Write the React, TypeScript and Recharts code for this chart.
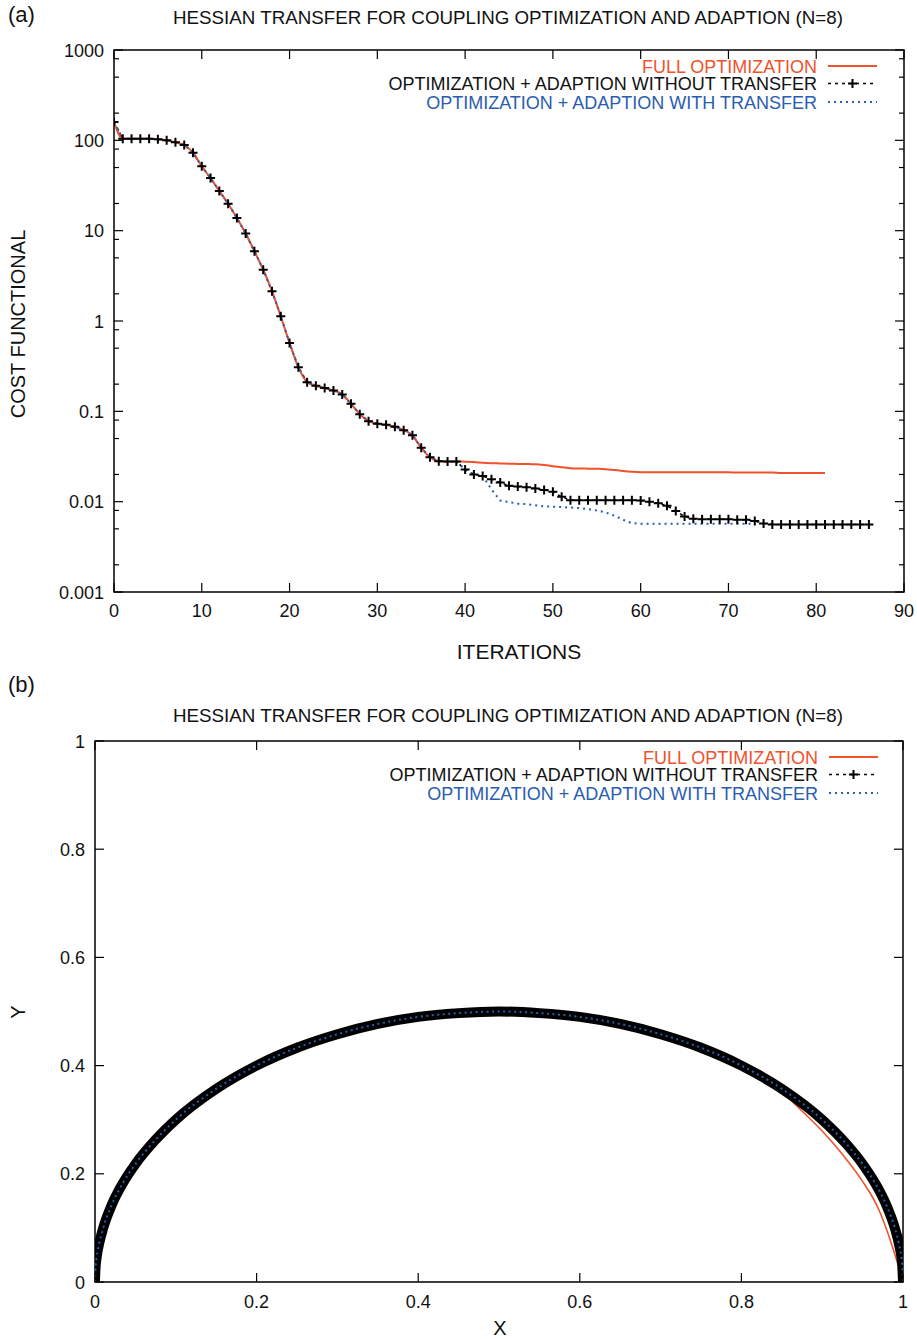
import React from 'react';
import { LineChart, Line, XAxis, YAxis, ReferenceArea, Legend } from 'recharts';

// ---------------- Panel (a) data ----------------
const iterations = Array.from({ length: 87 }, (_, i) => i);

const withoutTransfer = [
  160, 104, 104, 104, 104, 103, 100, 95, 89, 73,
  51.5, 38.2, 27.5, 19.9, 13.8, 9.3, 5.9, 3.7, 2.14, 1.13,
  0.569, 0.308, 0.21, 0.192, 0.181, 0.17, 0.154, 0.121, 0.093, 0.0778,
  0.0729, 0.0711, 0.0675, 0.0619, 0.0545, 0.0395, 0.0311, 0.0281, 0.0279, 0.0279,
  0.0227, 0.02, 0.0192, 0.0177, 0.0163, 0.015, 0.0147, 0.0144, 0.014, 0.0135,
  0.0129, 0.0113, 0.0104, 0.0104, 0.0104, 0.0104, 0.0104, 0.0104, 0.0104, 0.0104,
  0.0103, 0.01, 0.0096, 0.009, 0.0079, 0.00686, 0.00647, 0.0064, 0.0064, 0.0064,
  0.0064, 0.0063, 0.0063, 0.0061, 0.00574, 0.0056, 0.0056, 0.0056, 0.0056, 0.0056,
  0.0056, 0.0056, 0.0056, 0.0056, 0.0056, 0.0056, 0.0056,
];

const fullOptimization = [
  160, 104, 104, 104, 104, 103, 100, 95, 89, 73,
  51.5, 38.2, 27.5, 19.9, 13.8, 9.3, 5.9, 3.7, 2.14, 1.13,
  0.569, 0.308, 0.21, 0.192, 0.181, 0.17, 0.154, 0.121, 0.093, 0.0778,
  0.0729, 0.0711, 0.0675, 0.0619, 0.0545, 0.0395, 0.0311, 0.0281, 0.0279, 0.0279,
  0.0277, 0.0274, 0.027, 0.0267, 0.0265, 0.0263, 0.0262, 0.0261, 0.0259, 0.0254,
  0.0247, 0.024, 0.0235, 0.0233, 0.0232, 0.0231, 0.0229, 0.0224, 0.0219, 0.0215,
  0.0212, 0.0211, 0.0211, 0.0211, 0.0211, 0.0211, 0.0211, 0.0211, 0.0211, 0.0211,
  0.0211, 0.021, 0.021, 0.021, 0.021, 0.021, 0.0208, 0.0208, 0.0208, 0.0207,
  0.0207, 0.0207,
];

const withTransfer = [
  160, 104, 104, 104, 104, 103, 100, 95, 89, 73,
  51.5, 38.2, 27.5, 19.9, 13.8, 9.3, 5.9, 3.7, 2.14, 1.13,
  0.569, 0.308, 0.21, 0.192, 0.181, 0.17, 0.154, 0.121, 0.093, 0.0778,
  0.0729, 0.0711, 0.0675, 0.0619, 0.0545, 0.0395, 0.0311, 0.0281, 0.0279, 0.0279,
  0.0227, 0.02, 0.0192, 0.0137, 0.0103, 0.0099, 0.0095, 0.0094, 0.0091, 0.0089,
  0.0088, 0.0087, 0.0086, 0.0085, 0.0083, 0.008, 0.0076, 0.007, 0.0063, 0.00578,
  0.0057, 0.0057, 0.0057, 0.0057, 0.0057, 0.0057, 0.0057, 0.0057, 0.0057, 0.0057,
  0.0057, 0.0057, 0.0057, 0.0057,
];

const iterTicks = [0, 10, 20, 30, 40, 50, 60, 70, 80, 90];
const costTicks = [0.001, 0.01, 0.1, 1, 10, 100, 1000];
const costTickLabels = ['0.001', '0.01', '0.1', '1', '10', '100', '1000'];
const costMinorMultipliers = [2, 5, 8];

// ---------------- Panel (b) data ----------------
const shapeX = [
  0, 0.0005, 0.002, 0.005, 0.01, 0.02, 0.035, 0.05, 0.075, 0.1,
  0.15, 0.2, 0.25, 0.3, 0.35, 0.4, 0.45, 0.5, 0.55, 0.6,
  0.65, 0.7, 0.75, 0.8, 0.85, 0.9, 0.93, 0.95, 0.965, 0.98,
  0.99, 0.995, 0.999, 1.0,
];
const shapeYAdapted = [
  0, 0.022, 0.045, 0.07, 0.099, 0.14, 0.184, 0.218, 0.263, 0.3,
  0.357, 0.4, 0.433, 0.458, 0.477, 0.49, 0.497, 0.5, 0.497, 0.49,
  0.477, 0.458, 0.433, 0.4, 0.357, 0.3, 0.255, 0.218, 0.184, 0.14,
  0.099, 0.07, 0.032, 0,
];
const shapeXFull = [
  0, 0.0005, 0.002, 0.005, 0.01, 0.02, 0.035, 0.05, 0.075, 0.1,
  0.15, 0.2, 0.25, 0.3, 0.35, 0.4, 0.45, 0.5, 0.55, 0.6,
  0.65, 0.7, 0.75, 0.8, 0.85, 0.875, 0.9, 0.925, 0.95, 0.97,
  0.985, 0.995, 1.0,
];
const shapeYFull = [
  0, 0.022, 0.045, 0.07, 0.099, 0.14, 0.184, 0.218, 0.263, 0.3,
  0.357, 0.4, 0.433, 0.458, 0.477, 0.49, 0.497, 0.499, 0.494, 0.486,
  0.473, 0.454, 0.429, 0.396, 0.352, 0.316, 0.279, 0.236, 0.186, 0.134,
  0.074, 0.026, 0,
];
const unitTicks = [0, 0.2, 0.4, 0.6, 0.8, 1];
const unitTickLabels = ['0', '0.2', '0.4', '0.6', '0.8', '1'];

const seriesNames = [
  'FULL OPTIMIZATION',
  'OPTIMIZATION + ADAPTION WITHOUT TRANSFER',
  'OPTIMIZATION + ADAPTION WITH TRANSFER',
];

// ---------------- built tables ----------------
const costData = iterations.map((it, i) => ({
  it,
  full: fullOptimization[i],
  without: withoutTransfer[i],
  with: withTransfer[i],
}));
const costAllTicks: number[] = [];
costTicks.forEach((t, i) => {
  costAllTicks.push(t);
  if (i < costTicks.length - 1) costMinorMultipliers.forEach((m) => costAllTicks.push(t * m));
});
const adaptedShape = shapeX.map((x, i) => ({ x, y: shapeYAdapted[i] }));
const fullShape = shapeXFull.map((x, i) => ({ x, y: shapeYFull[i] }));

// ---------------- styling ----------------
const FONT = "'Liberation Sans', Arial, Helvetica, sans-serif";
const RED = '#f0522c';
const BLUE = '#2a5db0';
const BLACK = '#000000';
const TICK_FS = 18;

const W = 917;
const A_H = 680;
const A_PW = 790;
const A_PH = 542;
const B_H = 659;
const B_PW = 808;
const B_PH = 541;

const PlusDot = (props: any) => {
  const { cx, cy } = props;
  if (cx == null || cy == null || isNaN(cx) || isNaN(cy)) return <g />;
  return (
    <path
      d={`M${cx - 4.5},${cy}h9M${cx},${cy - 4.5}v9`}
      stroke={BLACK}
      strokeWidth={2}
      fill="none"
    />
  );
};

const makeXTick = (plotH: number, ticks: number[], labels: string[], dy: number) => (props: any) => {
  const { x, y, payload } = props;
  const idx = ticks.findIndex((t) => Math.abs(t - payload.value) < 1e-9);
  return (
    <g>
      <line x1={x} y1={y} x2={x} y2={y - 9} stroke={BLACK} strokeWidth={1.2} />
      <line x1={x} y1={y - plotH} x2={x} y2={y - plotH + 9} stroke={BLACK} strokeWidth={1.2} />
      <text x={x} y={y + dy} textAnchor="middle" fontSize={TICK_FS} fontFamily={FONT} fill="#111">
        {idx >= 0 ? labels[idx] : ''}
      </text>
    </g>
  );
};

const makeYTick = (plotW: number, ticks: number[], labels: string[], log: boolean) => (props: any) => {
  const { x, y, payload } = props;
  const v = payload.value;
  const idx = ticks.findIndex((t) => (log ? Math.abs(t - v) / t < 1e-6 : Math.abs(t - v) < 1e-9));
  const major = idx >= 0;
  const len = major ? 9 : 5;
  return (
    <g>
      <line x1={x} y1={y} x2={x + len} y2={y} stroke={BLACK} strokeWidth={1.2} />
      <line x1={x + plotW} y1={y} x2={x + plotW - len} y2={y} stroke={BLACK} strokeWidth={1.2} />
      {major && (
        <text x={x - 10} y={y} dy={6.5} textAnchor="end" fontSize={TICK_FS} fontFamily={FONT} fill="#111">
          {labels[idx]}
        </text>
      )}
    </g>
  );
};

const LegendBox = () => {
  const textRight = 447;
  const s0 = 458;
  const s1 = 507;
  const rows = [10, 27.5, 46];
  const colors = [RED, '#111', BLUE];
  return (
    <svg width={520} height={60} style={{ display: 'block', overflow: 'visible' }}>
      {seriesNames.map((n, i) => (
        <text
          key={n}
          x={textRight}
          y={rows[i] + 6.5}
          textAnchor="end"
          fontSize={18}
          fontFamily={FONT}
          fill={colors[i]}
        >
          {n}
        </text>
      ))}
      <line x1={s0} y1={rows[0]} x2={s1} y2={rows[0]} stroke={RED} strokeWidth={2} />
      <line x1={s0} y1={rows[1]} x2={s1} y2={rows[1]} stroke={BLACK} strokeWidth={1.6} strokeDasharray="3 4" />
      <path d={`M${(s0 + s1) / 2 - 4.5},${rows[1]}h9M${(s0 + s1) / 2},${rows[1] - 4.5}v9`} stroke={BLACK} strokeWidth={2} />
      <line x1={s0} y1={rows[2]} x2={s1} y2={rows[2]} stroke={BLUE} strokeWidth={2} strokeDasharray="2 4" />
    </svg>
  );
};

const CostChart = () => (
  <LineChart
    width={W}
    height={A_H}
    data={costData}
    margin={{ top: 50, right: 13, left: 54, bottom: 48 }}
  >
    <XAxis
      dataKey="it"
      type="number"
      domain={[0, 90]}
      ticks={iterTicks}
      interval={0}
      allowDataOverflow
      height={40}
      axisLine={false}
      tickLine={false}
      tickSize={0}
      tickMargin={0}
      tick={makeXTick(A_PH, iterTicks, iterTicks.map(String), 25)}
    />
    <YAxis
      type="number"
      scale="log"
      domain={[0.001, 1000]}
      allowDataOverflow
      ticks={costAllTicks}
      interval={0}
      width={60}
      axisLine={false}
      tickLine={false}
      tickSize={0}
      tickMargin={0}
      tick={makeYTick(A_PW, costTicks, costTickLabels, true)}
    />
    <ReferenceArea
      x1={0}
      x2={90}
      y1={0.001}
      y2={1000}
      fill="none"
      fillOpacity={0}
      stroke={BLACK}
      strokeWidth={1.5}
      ifOverflow="visible"
    />
    <Legend
      content={() => <LegendBox />}
      layout="horizontal"
      verticalAlign="middle"
      align="center"
      wrapperStyle={{ left: 370, top: 56, width: 520, height: 60 }}
    />
    <Line dataKey="without" stroke={BLACK} strokeWidth={1.5} strokeDasharray="3 4" dot={false} isAnimationActive={false} type="linear" />
    <Line dataKey="full" stroke={RED} strokeWidth={2} dot={false} isAnimationActive={false} type="monotone" />
    <Line dataKey="with" stroke={BLUE} strokeWidth={2} strokeDasharray="2 4" dot={false} isAnimationActive={false} type="linear" />
    <Line
      dataKey="without"
      stroke="none"
      strokeWidth={0}
      dot={<PlusDot />}
      activeDot={false}
      legendType="none"
      isAnimationActive={false}
    />
  </LineChart>
);

const ShapeChart = () => (
  <LineChart width={W} height={B_H} margin={{ top: 61, right: 14, left: 35, bottom: 17 }}>
    <XAxis
      dataKey="x"
      type="number"
      domain={[0, 1]}
      ticks={unitTicks}
      interval={0}
      allowDataOverflow
      height={40}
      axisLine={false}
      tickLine={false}
      tickSize={0}
      tickMargin={0}
      tick={makeXTick(B_PH, unitTicks, unitTickLabels, 26)}
    />
    <YAxis
      type="number"
      domain={[0, 1]}
      ticks={unitTicks}
      interval={0}
      allowDataOverflow
      width={60}
      axisLine={false}
      tickLine={false}
      tickSize={0}
      tickMargin={0}
      tick={makeYTick(B_PW, unitTicks, unitTickLabels, false)}
    />
    <ReferenceArea
      x1={0}
      x2={1}
      y1={0}
      y2={1}
      fill="none"
      fillOpacity={0}
      stroke={BLACK}
      strokeWidth={1.5}
      ifOverflow="visible"
    />
    <Legend
      content={() => <LegendBox />}
      layout="horizontal"
      verticalAlign="middle"
      align="center"
      wrapperStyle={{ left: 371, top: 67, width: 520, height: 60 }}
    />
    <Line data={fullShape} dataKey="y" stroke={RED} strokeWidth={1.6} dot={false} isAnimationActive={false} type="monotone" />
    <Line data={adaptedShape} dataKey="y" stroke={BLACK} strokeWidth={10} dot={false} isAnimationActive={false} type="monotone" />
    <Line data={adaptedShape} dataKey="y" stroke={BLUE} strokeWidth={2} strokeDasharray="2 3.5" dot={false} isAnimationActive={false} type="monotone" />
  </LineChart>
);

const Overlay = () => (
  <svg
    width={W}
    height={1339}
    style={{ position: 'absolute', left: 0, top: 0, pointerEvents: 'none' }}
  >
    <g fontFamily={FONT} fill="#111">
      <text x={8} y={22} fontSize={22}>(a)</text>
      <text x={508} y={24} fontSize={18.5} textAnchor="middle" textLength={670} lengthAdjust="spacingAndGlyphs">
        HESSIAN TRANSFER FOR COUPLING OPTIMIZATION AND ADAPTION (N=8)
      </text>
      <text x={25} y={324} fontSize={20} textAnchor="middle" transform="rotate(-90 25 324)">
        COST FUNCTIONAL
      </text>
      <text x={519} y={659} fontSize={21} textAnchor="middle">ITERATIONS</text>
      <text x={8} y={692} fontSize={22}>(b)</text>
      <text x={508} y={722} fontSize={18.5} textAnchor="middle" textLength={670} lengthAdjust="spacingAndGlyphs">
        HESSIAN TRANSFER FOR COUPLING OPTIMIZATION AND ADAPTION (N=8)
      </text>
      <text x={25} y={1012} fontSize={20} textAnchor="middle" transform="rotate(-90 25 1012)">Y</text>
      <text x={500} y={1335} fontSize={20} textAnchor="middle">X</text>
    </g>
  </svg>
);

export default function App() {
  return (
    <div
      style={{
        position: 'absolute',
        left: 0,
        top: 0,
        width: W,
        height: 1339,
        background: '#fff',
        fontFamily: FONT,
      }}
    >
      <div style={{ position: 'absolute', left: 0, top: 0 }}>
        <CostChart />
      </div>
      <div style={{ position: 'absolute', left: 0, top: A_H }}>
        <ShapeChart />
      </div>
      <Overlay />
    </div>
  );
}
